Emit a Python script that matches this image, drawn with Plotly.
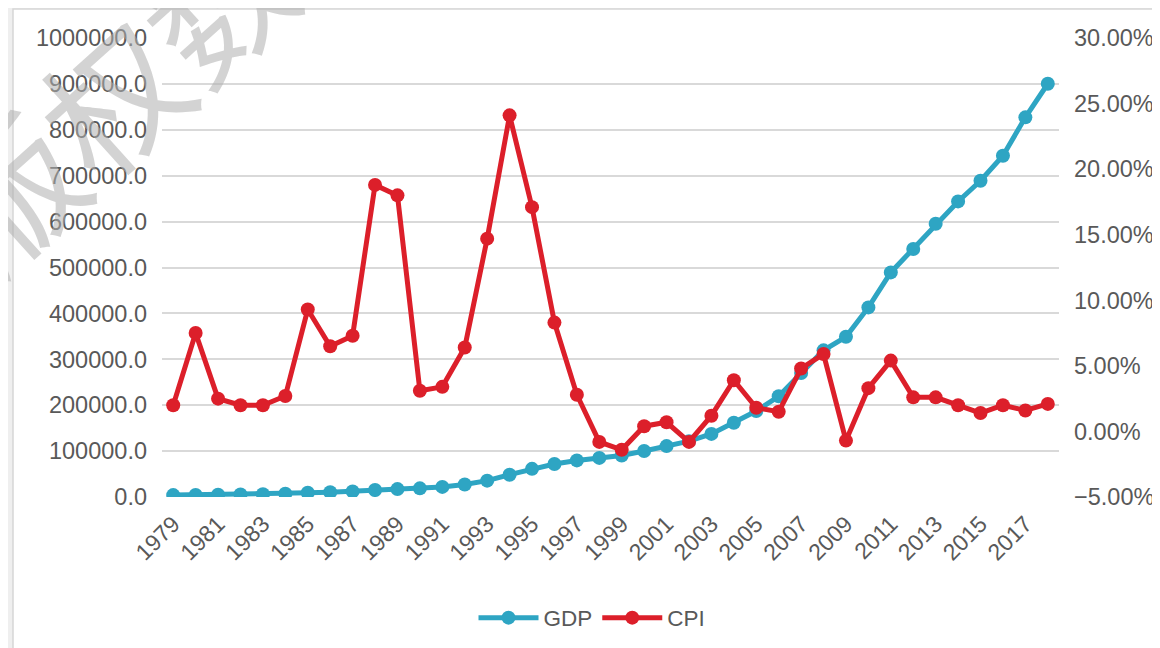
import plotly.graph_objects as go

years = list(range(1979, 2019))
gdp = [4100, 4588, 4936, 5373, 6021, 7279, 9099, 10376, 12175, 15180,
       17180, 18873, 22006, 27195, 35673, 48638, 61340, 71814, 79715, 85196,
       90564, 100280, 110863, 121717, 137422, 161840, 187319, 219439, 270232, 319516,
       349081, 413030, 489301, 540367, 595244, 643974, 689052, 743586, 827122, 900309]
cpi = [2.0, 7.5, 2.5, 2.0, 2.0, 2.7, 9.3, 6.5, 7.3, 18.8,
       18.0, 3.1, 3.4, 6.4, 14.7, 24.1, 17.1, 8.3, 2.8, -0.8,
       -1.4, 0.4, 0.7, -0.8, 1.2, 3.9, 1.8, 1.5, 4.8, 5.9,
       -0.7, 3.3, 5.4, 2.6, 2.6, 2.0, 1.4, 2.0, 1.6, 2.1]
cpi_frac = [v / 100 for v in cpi]
xtick_vals = years[::2]
xtick_text = [str(y) for y in xtick_vals]

GDP_COLOR = "#2EA5C3"
CPI_COLOR = "#DC1F2A"
TEXT = "#595959"
FONT = "Liberation Sans, Arial, sans-serif"

fig = go.Figure()
fig.add_trace(go.Scatter(x=years, y=gdp, name="GDP", mode="lines+markers",
                         line=dict(color=GDP_COLOR, width=5),
                         marker=dict(color=GDP_COLOR, size=14)))
fig.add_trace(go.Scatter(x=years, y=cpi_frac, name="CPI", mode="lines+markers", yaxis="y2",
                         line=dict(color=CPI_COLOR, width=5),
                         marker=dict(color=CPI_COLOR, size=14)))

# page body has an 8px margin; figure coordinates = page coordinates - 8
OFF = 8
FW, FH = 1160 - OFF, 648 - OFF
L, R, T, B = 162 - OFF, 1059 - OFF, 38 - OFF, 497 - OFF
W, H = R - L, B - T
def px(x):
    return (x - OFF - L) / W
def py(y):
    return (B - (y - OFF)) / H

fig.update_layout(
    width=FW, height=FH,
    margin=dict(l=L, r=FW - R, t=T, b=FH - B, autoexpand=False),
    paper_bgcolor="#efefef",
    plot_bgcolor="rgba(0,0,0,0)",
    font=dict(family=FONT, size=23, color=TEXT),
    showlegend=True,
    legend=dict(orientation="h", xref="container", yref="container",
                x=(592 - OFF) / FW, y=1 - (618 - OFF) / FH,
                xanchor="center", yanchor="middle",
                font=dict(size=22.5, color=TEXT), bgcolor="rgba(0,0,0,0)",
                itemwidth=60, traceorder="normal"),
    xaxis=dict(range=[1978.5, 2018.5], tickmode="array", tickvals=xtick_vals,
               ticktext=xtick_text, tickangle=-45, showgrid=False, zeroline=False,
               showline=False, ticks="", ticklabelstandoff=8,
               tickfont=dict(size=23, color=TEXT)),
    yaxis=dict(range=[0, 1000000], dtick=100000, tickformat=".1f",
               showgrid=True, gridcolor="#d9d9d9", gridwidth=1.5, zeroline=False,
               showline=False, ticks="", ticklabelstandoff=14,
               tickfont=dict(size=23.5, color=TEXT)),
    yaxis2=dict(range=[-0.05, 0.30], dtick=0.05, tickformat=".2%", overlaying="y",
                side="right", showgrid=False, zeroline=False, showline=False,
                ticks="", ticklabelstandoff=14, tickfont=dict(size=23.5, color=TEXT)),
    shapes=[dict(type="rect", xref="paper", yref="paper", layer="below",
                 x0=px(13), x1=px(1220), y0=py(720), y1=py(9),
                 fillcolor="white", line=dict(color="#d6d6d6", width=1.5))],
    annotations=[dict(text="版权数据", xref="paper", yref="paper",
                      x=px(162), y=py(48), xanchor="center", yanchor="middle",
                      showarrow=False, textangle=-42,
                      font=dict(family="Noto Sans CJK SC", size=140,
                                color="rgba(175,175,175,0.55)"))],
)

fig.write_html("out.html")
